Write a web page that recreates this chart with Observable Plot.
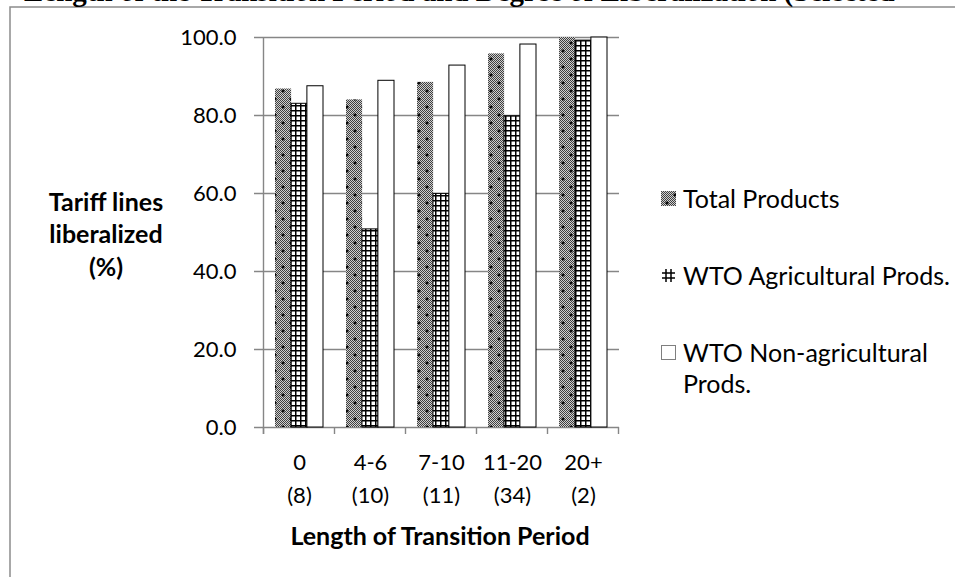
<!DOCTYPE html>
<html>
<head>
<meta charset="utf-8">
<script src="https://cdn.jsdelivr.net/npm/d3@7"></script>
<script src="https://cdn.jsdelivr.net/npm/@observablehq/plot@0.6"></script>
<style>
  html, body { margin: 0; padding: 0; background: #fff; }
  #chart { width: 955px; height: 577px; overflow: hidden; position: relative; }
</style>
</head>
<body>
<svg width="0" height="0" style="position:absolute">
  <defs>
    <pattern id="checker" width="2" height="2" patternUnits="userSpaceOnUse">
      <rect width="2" height="2" fill="#cfcfcf"/>
      <rect width="1" height="1" fill="#404040"/>
      <rect x="1" y="1" width="1" height="1" fill="#404040"/>
    </pattern>
    <pattern id="patTotal" width="16" height="16" patternUnits="userSpaceOnUse">
      <rect width="16" height="16" fill="url(#checker)"/>
      <path d="M3 1.5v3M1.5 3h3M11 9.5v3M9.5 11h3" stroke="#000" stroke-width="1.4"/>
    </pattern>
    <pattern id="patAgri" width="5" height="5" patternUnits="userSpaceOnUse">
      <rect width="5" height="5" fill="#fff"/>
      <rect width="5" height="1.5" fill="#000"/>
      <rect width="1.5" height="5" fill="#000"/>
    </pattern>
  </defs>
</svg>
<div id="chart"></div>
<script>
// ---- data ----
const categories = ["0", "4-6", "7-10", "11-20", "20+"];
const counts = [8, 10, 11, 34, 2];
const seriesNames = ["Total Products", "WTO Agricultural Prods.", "WTO Non-agricultural Prods."];
const totalProducts = [86.8, 84.0, 88.5, 95.8, 100.0];
const agricultural = [83.0, 50.8, 59.9, 79.8, 99.2];
const nonAgricultural = [87.5, 88.9, 92.8, 98.2, 100.0];
const yTicks = [0, 20, 40, 60, 80, 100];
const yTitleLines = ["Tariff lines", "liberalized", "(%)"];
const xTitle = "Length of Transition Period";
const topTitle = "Length of the Transition Period and Degree of Liberalization (Selected";

// ---- layout ----
const W = 955, H = 577;
const mL = 262, mR = 336, mT = 37, mB = 150;
const padIn = 0.33, padOut = 0.165;
const step = (W - mL - mR) / (categories.length - padIn + 2 * padOut);
const bw = step * (1 - padIn);
const third = bw / 3;
const FONT = "Lato, 'Open Sans', sans-serif";
const FS_NUM = 22;   // tick / category labels
const FS_TXT = 25;   // words: legend, titles
const GRID = "#868686";

const rows = categories.map((c, i) => ({
  category: c, count: counts[i],
  total: totalProducts[i], agri: agricultural[i], nonag: nonAgricultural[i]
}));

const chart = Plot.plot({
  width: W, height: H,
  marginLeft: mL, marginRight: mR, marginTop: mT, marginBottom: mB,
  style: { fontFamily: FONT, fontSize: FS_NUM + "px", background: "transparent", color: "#000", overflow: "visible" },
  x: { domain: categories, paddingInner: padIn, paddingOuter: padOut, axis: null },
  y: { domain: [0, 100], ticks: yTicks, tickFormat: d3.format(".1f"), tickSize: 0, tickPadding: 26, label: null },
  marks: [
    Plot.ruleY(yTicks, { stroke: GRID, strokeWidth: 1.4, insetLeft: -8 }),
    Plot.barY(rows, { x: "category", y: "total", fill: "url(#patTotal)", insetLeft: 0, insetRight: 2 * third }),
    Plot.barY(rows, { x: "category", y: "agri", fill: "url(#patAgri)", stroke: "#000", strokeWidth: 1, insetLeft: third, insetRight: third }),
    Plot.barY(rows, { x: "category", y: "nonag", fill: "#fff", stroke: "#000", strokeWidth: 1, insetLeft: 2 * third, insetRight: 0 }),
    Plot.text(rows, {
      x: "category", text: d => `${d.category}\n(${d.count})`,
      frameAnchor: "bottom", lineAnchor: "top", lineHeight: 1.5, dy: 19,
      fill: "#000", fontSize: FS_NUM
    })
  ]
});

document.getElementById("chart").appendChild(chart);

// ---- decorations using library scales ----
const svg = d3.select(chart);
const xs = chart.scale("x");
const ys = chart.scale("y");
const y0 = ys.apply(0), y100 = ys.apply(100);
const gap = (xs.step - xs.bandwidth) / 2;
const bounds = categories.map(c => xs.apply(c) - gap);
bounds.push(xs.apply(categories[categories.length - 1]) + xs.bandwidth + gap);

const deco = svg.append("g").attr("stroke", GRID).attr("stroke-width", 1.4);
deco.append("line").attr("x1", bounds[0]).attr("x2", bounds[0]).attr("y1", y100).attr("y2", y0 + 7);
bounds.forEach(b => deco.append("line").attr("x1", b).attr("x2", b).attr("y1", y0).attr("y2", y0 + 7));

// outer border of the embedded chart
svg.append("path").attr("d", `M10 ${H + 2}V7H${W + 2}`).attr("fill", "none").attr("stroke", "#8c8c8c").attr("stroke-width", 1.5);

// clipped figure title above (only its lower edge shows)
svg.append("text").attr("x", 24).attr("y", 0.5).attr("text-anchor", "start")
  .attr("font-family", "'Liberation Serif', 'Times New Roman', serif").attr("font-weight", "bold").attr("font-size", 29)
  .attr("fill", "#000").text(topTitle);

// y title
const yt = svg.append("text").attr("font-weight", "bold").attr("font-size", FS_TXT).attr("text-anchor", "middle").attr("fill", "#000");
[201, 233, 266].forEach((yy, i) => yt.append("tspan").attr("x", 106).attr("y", yy).attr("dominant-baseline", "central").text(yTitleLines[i]));

// x title
svg.append("text").attr("x", 440).attr("y", 535).attr("dominant-baseline", "central")
  .attr("text-anchor", "middle").attr("font-weight", "bold").attr("font-size", FS_TXT).attr("fill", "#000").text(xTitle);

// legend
const lg = svg.append("g").attr("font-size", FS_TXT).attr("fill", "#000").attr("text-anchor", "start");
const legendY = [198, 275, 352];
const legendLines = [["Total Products"], ["WTO Agricultural Prods."], ["WTO Non-agricultural", "Prods."]];
legendY.forEach((cy, i) => {
  if (i === 0) {
    lg.append("rect").attr("x", 661).attr("y", cy - 7).attr("width", 15).attr("height", 15).attr("fill", "url(#patTotal)");
  } else if (i === 1) {
    lg.append("path")
      .attr("d", `M666 ${cy - 6}V${cy + 7}M671 ${cy - 6}V${cy + 7}M662 ${cy - 2}H675M662 ${cy + 3}H675`)
      .attr("stroke", "#000").attr("stroke-width", 1.5).attr("fill", "none");
  } else {
    lg.append("rect").attr("x", 661.5).attr("y", cy - 6.5).attr("width", 14).attr("height", 14)
      .attr("fill", "#fff").attr("stroke", "#7f7f7f");
  }
  legendLines[i].forEach((t, j) => {
    lg.append("text").attr("x", 683).attr("y", cy + j * 31).attr("dominant-baseline", "central").text(t);
  });
});
</script>
</body>
</html>
